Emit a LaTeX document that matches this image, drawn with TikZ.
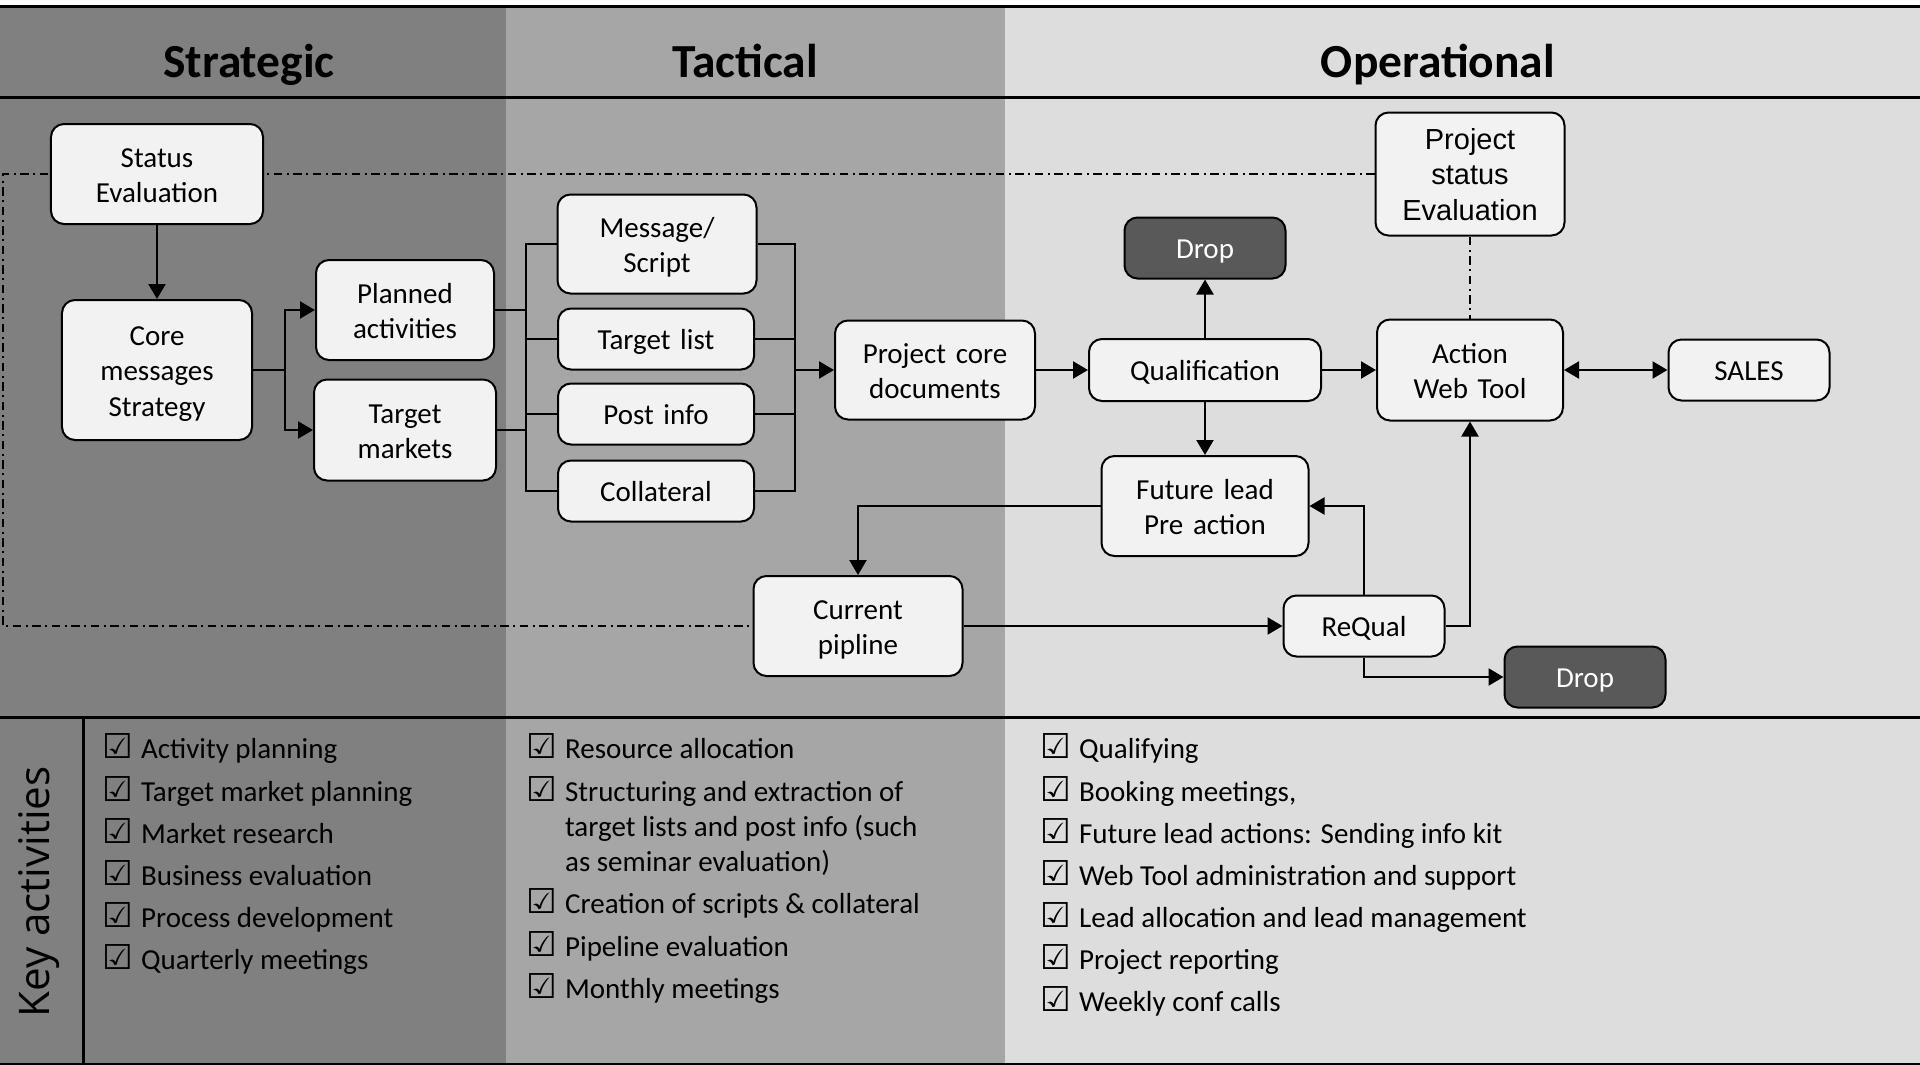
\documentclass[tikz,border=0pt]{standalone}
\usepackage{fontspec}
\setmainfont{Carlito}
\newfontfamily\arialfont{Liberation Sans}
\newfontfamily\keyfont{Open Sans}
\newfontfamily\symfont{DejaVu Sans}
\usetikzlibrary{arrows.meta,positioning,backgrounds}

\definecolor{stratgray}{HTML}{808080}
\definecolor{tactgray}{HTML}{A6A6A6}
\definecolor{opgray}{HTML}{DDDDDD}
\definecolor{boxfill}{HTML}{F2F2F2}
\definecolor{dropfill}{HTML}{595959}

% tick box in front of every activity
\newcommand{\chk}{\makebox[7.8mm][l]{\smash{\symfont\fontsize{19.5}{20}\selectfont ☑}}}
% full line height strut, so box texts sit like office text frames
\newcommand{\lnstrut}{\rule[-3.9pt]{0pt}{20.1pt}}

\begin{document}
\begin{tikzpicture}[x=0.2mm,y=-0.2mm,>={Triangle[length=3mm,width=3.4mm]},
  line width=0.45mm,
  main node/.style={draw,rounded corners=2.6mm,fill=boxfill,line width=0.4mm,
    text width=31mm,align=center,inner sep=0pt,font=\fontsize{16.5}{20.1}\selectfont,
    execute at begin node=\lnstrut,execute at end node=\lnstrut},
  drop node/.style={main node,fill=dropfill,text=white},
  head/.style={anchor=base,font=\fontsize{27}{32}\selectfont\bfseries},
  list/.style={anchor=north west,inner sep=0pt,font=\fontsize{16.5}{20.1}\selectfont},
  dashdot/.style={line width=0.35mm,dash pattern=on 1.7mm off 0.9mm on 0.4mm off 0.9mm},
  rule/.style={line width=0.6mm}]

  \useasboundingbox (0,0) rectangle (1920,1065);

  % column titles
  \node[head] (strat) at (249,77) {Strategic};
  \node[head] (tact) at (745,77) {Tactical};
  \node[head] (oper) at (1438,77) {Operational};

  % strategic level
  \node[main node,minimum width=42.4mm,minimum height=20mm] (stat) at (157,174) {Status\\Evaluation};
  \node[main node,minimum width=38mm,minimum height=28mm] (core) at (157,370) {Core\\messages\\Strategy};
  \node[main node,minimum width=35.6mm,minimum height=20mm] (plan) at (405,310) {Planned\\activities};
  \node[main node,minimum width=36.4mm,minimum height=20.2mm] (tmkt) at (405,430) {Target\\markets};

  % tactical level
  \node[main node,minimum width=39.8mm,minimum height=19.8mm] (msg) at (657,244) {Message/\\Script};
  \node[main node,minimum width=39.2mm,minimum height=12.2mm] (tlist) at (656,339) {Target list};
  \node[main node,minimum width=39.2mm,minimum height=12.2mm] (post) at (656,414) {Post info};
  \node[main node,minimum width=39.2mm,minimum height=12.2mm] (coll) at (656,491) {Collateral};
  \node[main node,minimum width=40mm,minimum height=19.8mm] (pcd) at (935,370) {Project core\\documents};
  \node[main node,minimum width=41.8mm,minimum height=20mm] (pipe) at (858,626) {Current\\pipline};

  % operational level
  \node[main node,minimum width=37.8mm,minimum height=24.6mm,font=\arialfont\fontsize{16.5}{20.1}\selectfont] (pse) at (1470,174) {Project\\status\\Evaluation};
  \node[drop node,minimum width=32.2mm,minimum height=12.2mm] (drop1) at (1205,248) {Drop};
  \node[main node,minimum width=46.4mm,minimum height=12.4mm] (qual) at (1205,370) {Qualification};
  \node[main node,minimum width=37.2mm,minimum height=20.2mm] (web) at (1470,370) {Action\\Web Tool};
  \node[main node,minimum width=32.2mm,minimum height=12.2mm] (sales) at (1749,370) {SALES};
  \node[main node,minimum width=41.4mm,minimum height=20mm] (fut) at (1205,506) {Future lead\\Pre action};
  \node[main node,minimum width=32.2mm,minimum height=12.2mm] (requal) at (1364,626) {ReQual};
  \node[drop node,minimum width=32.2mm,minimum height=12.2mm] (drop2) at (1585,677) {Drop};

  % bus lines either side of the tactical boxes
  \coordinate (lbus) at (526,0);
  \coordinate (rbus) at (795,0);
  \coordinate (loop) at (3,0);

  \draw[->] (stat) -- (core);
  \draw[->] (core.east) -- ++(32,0) |- (plan.west);
  \draw[->] (core.east) -- ++(32,0) |- (tmkt.west);
  \draw (plan.east) -- (plan.east -| lbus);
  \draw (tmkt.east) -- (tmkt.east -| lbus);
  \draw (msg.west) -- (msg.west -| lbus) -- (coll.west -| lbus) -- (coll.west);
  \draw (msg.east) -- (msg.east -| rbus) -- (coll.east -| rbus) -- (coll.east);
  \foreach \n in {tlist,post}
    \draw (\n.west -| lbus) -- (\n.west) (\n.east) -- (\n.east -| rbus);
  \draw[->] (pcd.west -| rbus) -- (pcd.west);

  \draw[->] (pcd) -- (qual);
  \draw[->] (qual) -- (drop1);
  \draw[->] (qual) -- (fut);
  \draw[->] (qual) -- (web);
  \draw[<->] (web) -- (sales);
  \draw[dashdot] (pse) -- (web);
  \draw[->] (fut.west) -| (pipe.north);
  \draw[->] (pipe) -- (requal);
  \draw[->] (requal.north) |- (fut.east);
  \draw[->] (requal.east) -| (web.south);
  \draw[->] (requal.south) |- (drop2.west);

  % key activities
  \node[rotate=90,anchor=base,font=\keyfont\fontsize{24}{29}\selectfont] (key) at (50,892) {Key activities};
  \node[list] (slist) at (101,733) {\begin{tabular}{@{}l@{}l@{}}
    \chk & Activity planning\\[3.9pt]
    \chk & Target market planning\\[3.9pt]
    \chk & Market research\\[3.9pt]
    \chk & Business evaluation\\[3.9pt]
    \chk & Process development\\[3.9pt]
    \chk & Quarterly meetings
  \end{tabular}};
  \node[list] (tlist2) at (525,733) {\begin{tabular}{@{}l@{}l@{}}
    \chk & Resource allocation\\[3.9pt]
    \chk & Structuring and extraction of\\
         & target lists and post info (such\\
         & as seminar evaluation)\\[3.9pt]
    \chk & Creation of scripts \& collateral\\[3.9pt]
    \chk & Pipeline evaluation\\[3.9pt]
    \chk & Monthly meetings
  \end{tabular}};
  \node[list] (olist) at (1039,733) {\begin{tabular}{@{}l@{}l@{}}
    \chk & Qualifying\\[3.9pt]
    \chk & Booking meetings,\\[3.9pt]
    \chk & Future lead actions: Sending info kit\\[3.9pt]
    \chk & Web Tool administration and support\\[3.9pt]
    \chk & Lead allocation and lead management\\[3.9pt]
    \chk & Project reporting\\[3.9pt]
    \chk & Weekly conf calls
  \end{tabular}};

  % column shading, frame rules and the status feedback loop
  \begin{scope}[on background layer]
    \fill[white] (0,0) rectangle (1920,1065);
    \fill[stratgray] (0,6) rectangle (506,1065);
    \fill[tactgray] (506,6) rectangle (1005,1065);
    \fill[opgray] (1005,6) rectangle (1920,1065);
    \draw[rule] (0,6) -- (1920,6) (0,97) -- (1920,97) (0,717) -- (1920,717)
      (0,1064) -- (1920,1064) (83,717) -- (83,1065);
    \draw[dashdot] (pse.west) -- (pse.west -| loop) |- (pipe.west);
  \end{scope}
\end{tikzpicture}
\end{document}
